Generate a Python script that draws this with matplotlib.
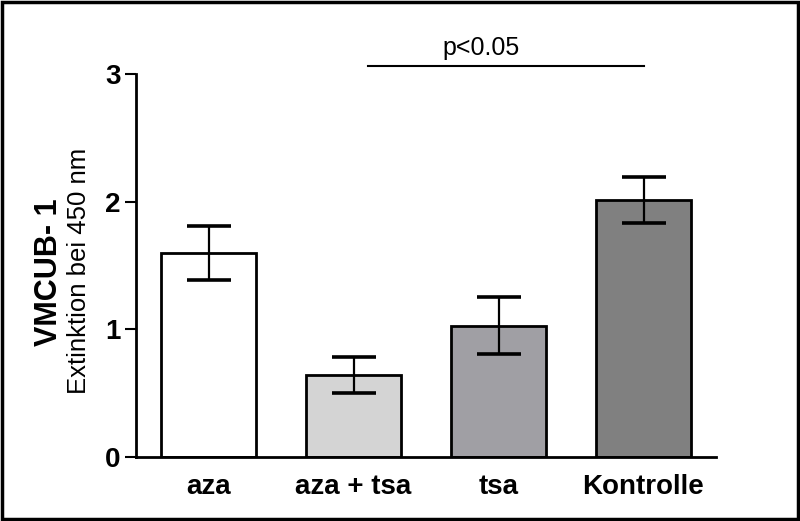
import numpy as np
import matplotlib.pyplot as plt
from matplotlib.patches import Rectangle

# data
categories = ["aza", "aza + tsa", "tsa", "Kontrolle"]
means = [1.60, 0.64, 1.03, 2.01]
errors = [0.21, 0.14, 0.22, 0.18]
bar_colors = ["#ffffff", "#d4d4d4", "#a09fa4", "#808080"]
yticks = [0, 1, 2, 3]
sig_from, sig_to, sig_y = 1.1, 3.0, 3.06
sig_text = "p<0.05"

plt.rcParams["font.family"] = ["Liberation Sans", "DejaVu Sans"]

fig = plt.figure(figsize=(8, 5.21), dpi=100)
ax = fig.add_axes([0.17, 0.1228, 0.725, 0.7352])

x = np.arange(len(categories))
ax.bar(x, means, width=0.66, color=bar_colors, edgecolor="black",
       linewidth=2, zorder=2)
ax.errorbar(x, means, yerr=errors, fmt="none", ecolor="black",
            elinewidth=1.6, capsize=16, capthick=2.6, zorder=3)

# significance bar
ax.plot([sig_from, sig_to], [sig_y, sig_y], color="black", lw=1.5,
        clip_on=False)
ax.text(1.88, sig_y + 0.05, sig_text, ha="center", va="bottom",
        fontsize=18, clip_on=False)

ax.set_xlim(-0.5, 3.5)
ax.set_ylim(0, 3)
ax.set_yticks(yticks)
ax.set_yticklabels([str(t) for t in yticks], fontsize=20, fontweight="bold")
ax.set_xticks(x)
ax.set_xticklabels(categories, fontsize=20, fontweight="bold")
ax.tick_params(axis="x", length=0, pad=12)
ax.tick_params(axis="y", length=8, width=1.5, pad=3)

for s in ["top", "right"]:
    ax.spines[s].set_visible(False)
for s in ["left", "bottom"]:
    ax.spines[s].set_linewidth(2)

# two-line y label
fig.text(0.061, 0.478, "VMCUB- 1", rotation=90, ha="center", va="center",
         fontsize=22, fontweight="bold")
fig.text(0.099, 0.48, "Extinktion bei 450 nm", rotation=90, ha="center",
         va="center", fontsize=18.5)

# outer frame
fig.patches.append(Rectangle((0.003, 0.004), 0.994, 0.992,
                             transform=fig.transFigure, fill=False,
                             edgecolor="black", linewidth=2.5))

fig.savefig("out.png", dpi=100)
